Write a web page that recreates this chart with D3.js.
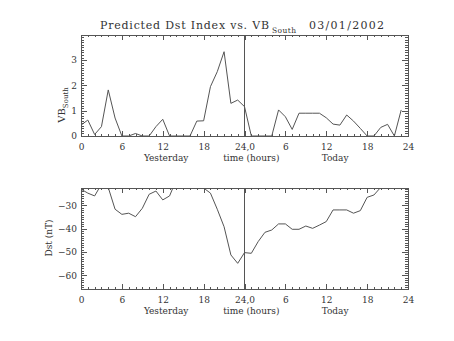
<!DOCTYPE html>
<html><head><meta charset="utf-8">
<script src="https://cdn.jsdelivr.net/npm/d3@7"></script>
<style>
body{margin:0;background:#fff}
svg{display:block}
text{font-family:"DejaVu Serif","Liberation Serif",serif;fill:#333}
</style></head>
<body><svg id="c" width="454" height="341"></svg>
<script>
const hours=[0,1,2,3,4,5,6,7,8,9,10,11,12,13,14,15,16,17,18,19,20,21,22,23,24,25,26,27,28,29,30,31,32,33,34,35,36,37,38,39,40,41,42,43,44,45,46,47];
const vbSouth=[0.43,0.63,0.06,0.37,1.82,0.71,0,0,0.1,0,0,0.37,0.66,0,0,0,0,0.59,0.6,1.95,2.54,3.33,1.29,1.42,1.16,0,0,0,0,1.03,0.76,0.26,0.9,0.9,0.9,0.9,0.72,0.47,0.43,0.83,0.59,0.3,0,0,0.34,0.46,0,1.03];
const dst=[-23.1,-24.8,-26.0,-21,-22.4,-31.7,-33.9,-33.4,-34.9,-31.3,-25.3,-23.9,-27.7,-26.0,-19,-18,-18,-19,-22.6,-24.8,-31.7,-39.2,-51.3,-54.9,-50.3,-50.6,-45.6,-41.6,-40.6,-38.0,-38.0,-40.3,-40.3,-38.9,-39.9,-38.5,-37.0,-32.0,-32.0,-32.0,-33.4,-32.3,-26.6,-25.6,-22.3,-20,-19,-18];
const xTickValues=[0,6,12,18,24,30,36,42,48];
const xTickLabels=["0","6","12","18","24,0","6","12","18","24"];
const vbTicks=[0,1,2,3];
const dstTicks=[-30,-40,-50,-60];
const dayLabels=["Yesterday","time (hours)","Today"];

const svg=d3.select("#c");
const L=81,R=408;
const x=d3.scaleLinear().domain([0,48]).range([L,R]);
const minorX=d3.range(0,49,1);
const ink="#555";

function panel(y0,y1,domain,yTicks,minorStep,values,id){
  const y=d3.scaleLinear().domain(domain).range([y1,y0]);
  const g=svg.append("g");
  const minorY=d3.range(Math.ceil(domain[0]/minorStep)*minorStep,domain[1]+1e-9,minorStep).map(v=>+v.toFixed(4));
  svg.append("clipPath").attr("id",id).append("rect").attr("x",L).attr("y",y0).attr("width",R-L).attr("height",y1-y0);
  g.append("rect").attr("x",L).attr("y",y0).attr("width",R-L).attr("height",y1-y0).attr("fill","none").attr("stroke",ink).attr("stroke-width",1).attr("shape-rendering","crispEdges");
  const style=sel=>{sel.select(".domain").remove();sel.selectAll("line").attr("stroke",ink).attr("shape-rendering","crispEdges");sel.selectAll("text").attr("font-size",9).attr("fill","#333").attr("font-family","DejaVu Serif");};
  g.append("g").attr("transform",`translate(0,${y1})`).call(d3.axisBottom(x).tickValues(minorX).tickSize(-2).tickFormat("")).call(style);
  g.append("g").attr("transform",`translate(0,${y1})`).call(d3.axisBottom(x).tickValues(xTickValues).tickSize(-5).tickPadding(8).tickFormat((d,i)=>xTickLabels[i])).call(style);
  g.append("g").attr("transform",`translate(0,${y0})`).call(d3.axisTop(x).tickValues(minorX).tickSize(-2).tickFormat("")).call(style);
  g.append("g").attr("transform",`translate(0,${y0})`).call(d3.axisTop(x).tickValues(xTickValues).tickSize(-5).tickFormat("")).call(style);
  g.append("g").attr("transform",`translate(${L},0)`).call(d3.axisLeft(y).tickValues(minorY).tickSize(-3).tickFormat("")).call(style);
  g.append("g").attr("transform",`translate(${L},0)`).call(d3.axisLeft(y).tickValues(yTicks).tickSize(-6).tickPadding(4).tickFormat(d3.format("d"))).call(style);
  g.append("g").attr("transform",`translate(${R},0)`).call(d3.axisRight(y).tickValues(minorY).tickSize(-3).tickFormat("")).call(style);
  g.append("g").attr("transform",`translate(${R},0)`).call(d3.axisRight(y).tickValues(yTicks).tickSize(-6).tickFormat("")).call(style);
  const line=d3.line().x((d,i)=>x(hours[i])).y(d=>y(d));
  g.append("path").datum(values).attr("clip-path",`url(#${id})`).attr("d",line).attr("fill","none").attr("stroke",ink).attr("stroke-width",1);
  g.append("line").attr("x1",x(24)).attr("x2",x(24)).attr("y1",y0).attr("y2",y1).attr("stroke",ink).attr("shape-rendering","crispEdges");
  const ly=y1+25;
  [[x(12.5),0],[x(25),1],[x(37.3),2]].forEach(([cx,i])=>{
    g.append("text").attr("x",cx).attr("y",ly).attr("text-anchor","middle").attr("font-size",9).text(dayLabels[i]);
  });
  return y;
}

panel(35,136,[0,3.99],vbTicks,0.1,vbSouth,"clipTop");
panel(188,289,[-65.9,-22.6],dstTicks,1,dst,"clipBot");

svg.append("text").attr("x",100).attr("y",29).attr("font-size",11).attr("textLength",169).text("Predicted Dst Index vs. VB");
svg.append("text").attr("x",272).attr("y",33).attr("font-size",7.5).attr("textLength",24).text("South");
svg.append("text").attr("x",309).attr("y",29).attr("font-size",11).attr("textLength",75).text("03/01/2002");

const yt=svg.append("text").attr("transform","translate(65,105) rotate(-90)").attr("text-anchor","middle").attr("font-size",10);
yt.append("tspan").text("VB");
yt.append("tspan").attr("font-size",7).attr("dy",2.5).text("South");
svg.append("text").attr("transform","translate(52,238) rotate(-90)").attr("text-anchor","middle").attr("font-size",9).text("Dst (nT)");
</script></body></html>
